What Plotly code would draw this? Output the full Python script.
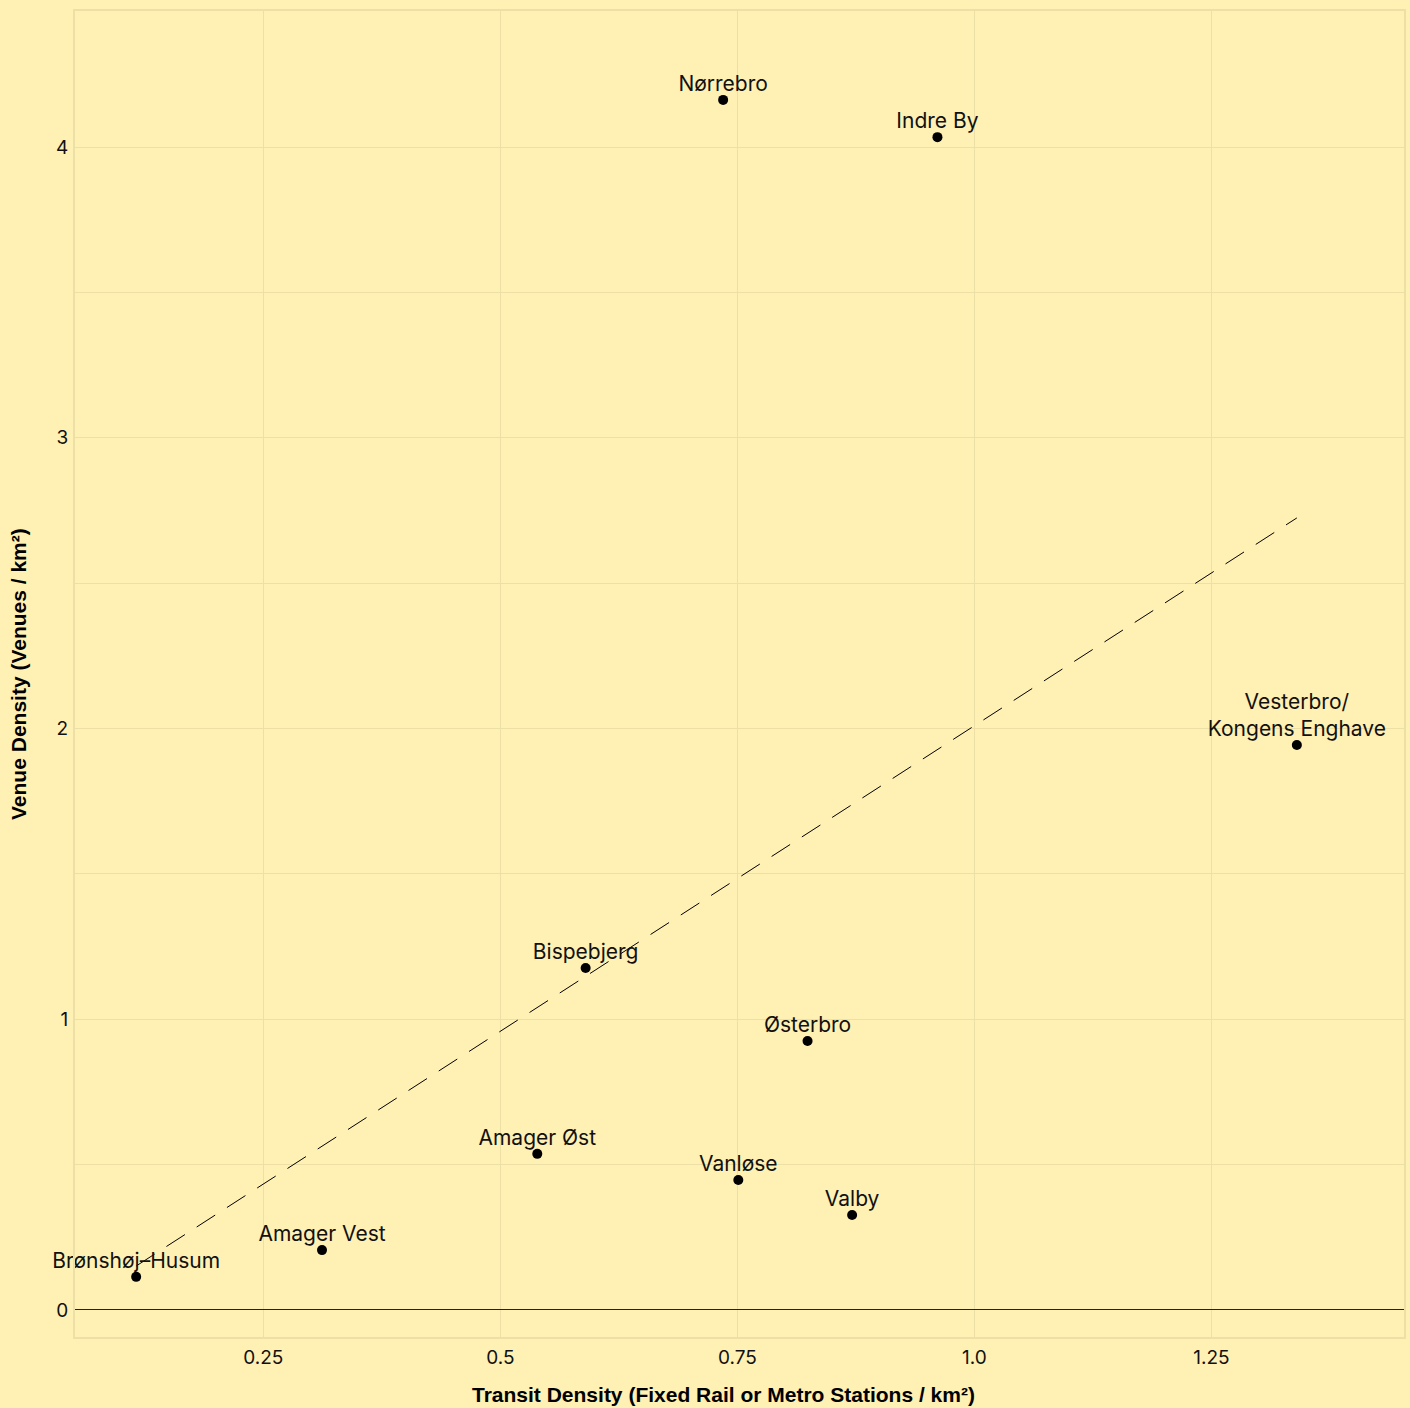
import numpy as np
import plotly.graph_objects as go

districts = ["Nørrebro", "Indre By", "Vesterbro/<br>Kongens Enghave", "Bispebjerg", "Østerbro",
             "Amager Øst", "Vanløse", "Valby", "Amager Vest", "Brønshøj–Husum"]
transit_density = [0.735, 0.961, 1.340, 0.590, 0.824, 0.539, 0.751, 0.871, 0.312, 0.116]
venue_density = [4.162, 4.034, 1.943, 1.176, 0.925, 0.537, 0.447, 0.327, 0.206, 0.114]

x_ticks = [0.25, 0.5, 0.75, 1.0, 1.25]
x_tick_labels = ["0.25", "0.5", "0.75", "1.0", "1.25"]
y_ticks = [0, 1, 2, 3, 4]
y_tick_labels = ["0", "1", "2", "3", "4"]

BG = "#FFF0B4"
GRID = "#EDE0A6"
LABEL_FONT = "Inter, Lato, sans-serif"
TITLE_FONT = "Liberation Sans, Arial, sans-serif"

xs = np.array(transit_density)
ys = np.array(venue_density)
slope, intercept = np.polyfit(xs, ys, 1)
fit_x = [xs.min(), xs.max()]
fit_y = [intercept + slope * v for v in fit_x]

fig = go.Figure()
fig.add_trace(go.Scatter(
    x=fit_x, y=fit_y, mode="lines",
    line=dict(color="black", width=1, dash="22px,14px"),
    hoverinfo="skip", showlegend=False))
# labels (small invisible markers so text sits close to the dots)
fig.add_trace(go.Scatter(
    x=transit_density, y=venue_density, mode="markers+text",
    text=districts, textposition="top center",
    textfont=dict(family=LABEL_FONT, size=21, color="#111111"),
    marker=dict(color="rgba(0,0,0,0)", size=4),
    hoverinfo="skip", cliponaxis=False, showlegend=False))
fig.add_trace(go.Scatter(
    x=transit_density, y=venue_density, mode="markers",
    marker=dict(color="black", size=10),
    cliponaxis=False, showlegend=False))

axis_common = dict(
    showgrid=True, gridcolor=GRID, gridwidth=1, automargin=False,
    showline=True, linecolor=GRID, linewidth=2, mirror=True,
    ticks="", tickfont=dict(family=LABEL_FONT, size=19, color="#111111"),
)
fig.update_xaxes(
    range=[0.0515, 1.453], tickvals=x_ticks, ticktext=x_tick_labels,
    zeroline=False, ticklabelstandoff=2,
    **axis_common)
fig.update_yaxes(
    range=[-0.0929, 4.4678], tickvals=y_ticks, ticktext=y_tick_labels,
    minor=dict(dtick=0.5, tick0=0, showgrid=True, gridcolor=GRID, gridwidth=1),
    zeroline=True, zerolinecolor="#222222", zerolinewidth=1.2,
    ticklabelstandoff=1,
    **axis_common)

fig.add_annotation(
    text="<b>Transit Density (Fixed Rail or Metro Stations / km²)</b>",
    xref="paper", yref="paper", x=0.4883, y=-0.0437, xanchor="center", yanchor="middle",
    showarrow=False, font=dict(family=TITLE_FONT, size=21, color="black"))
fig.add_annotation(
    text="<b>Venue Density (Venues / km²)</b>", textangle=-90,
    xref="paper", yref="paper", x=-0.0429, y=0.5, xanchor="center", yanchor="middle",
    showarrow=False, font=dict(family=TITLE_FONT, size=21, color="black"))

fig.update_layout(
    width=1410, height=1408,
    paper_bgcolor=BG, plot_bgcolor=BG,
    margin=dict(l=75, r=6, t=11, b=71),
    font=dict(family=LABEL_FONT, color="black"),
)
fig.write_html("out.html", config={"displayModeBar": False},
               post_script="document.body.style.margin='0';document.body.style.background='" + BG + "';")
